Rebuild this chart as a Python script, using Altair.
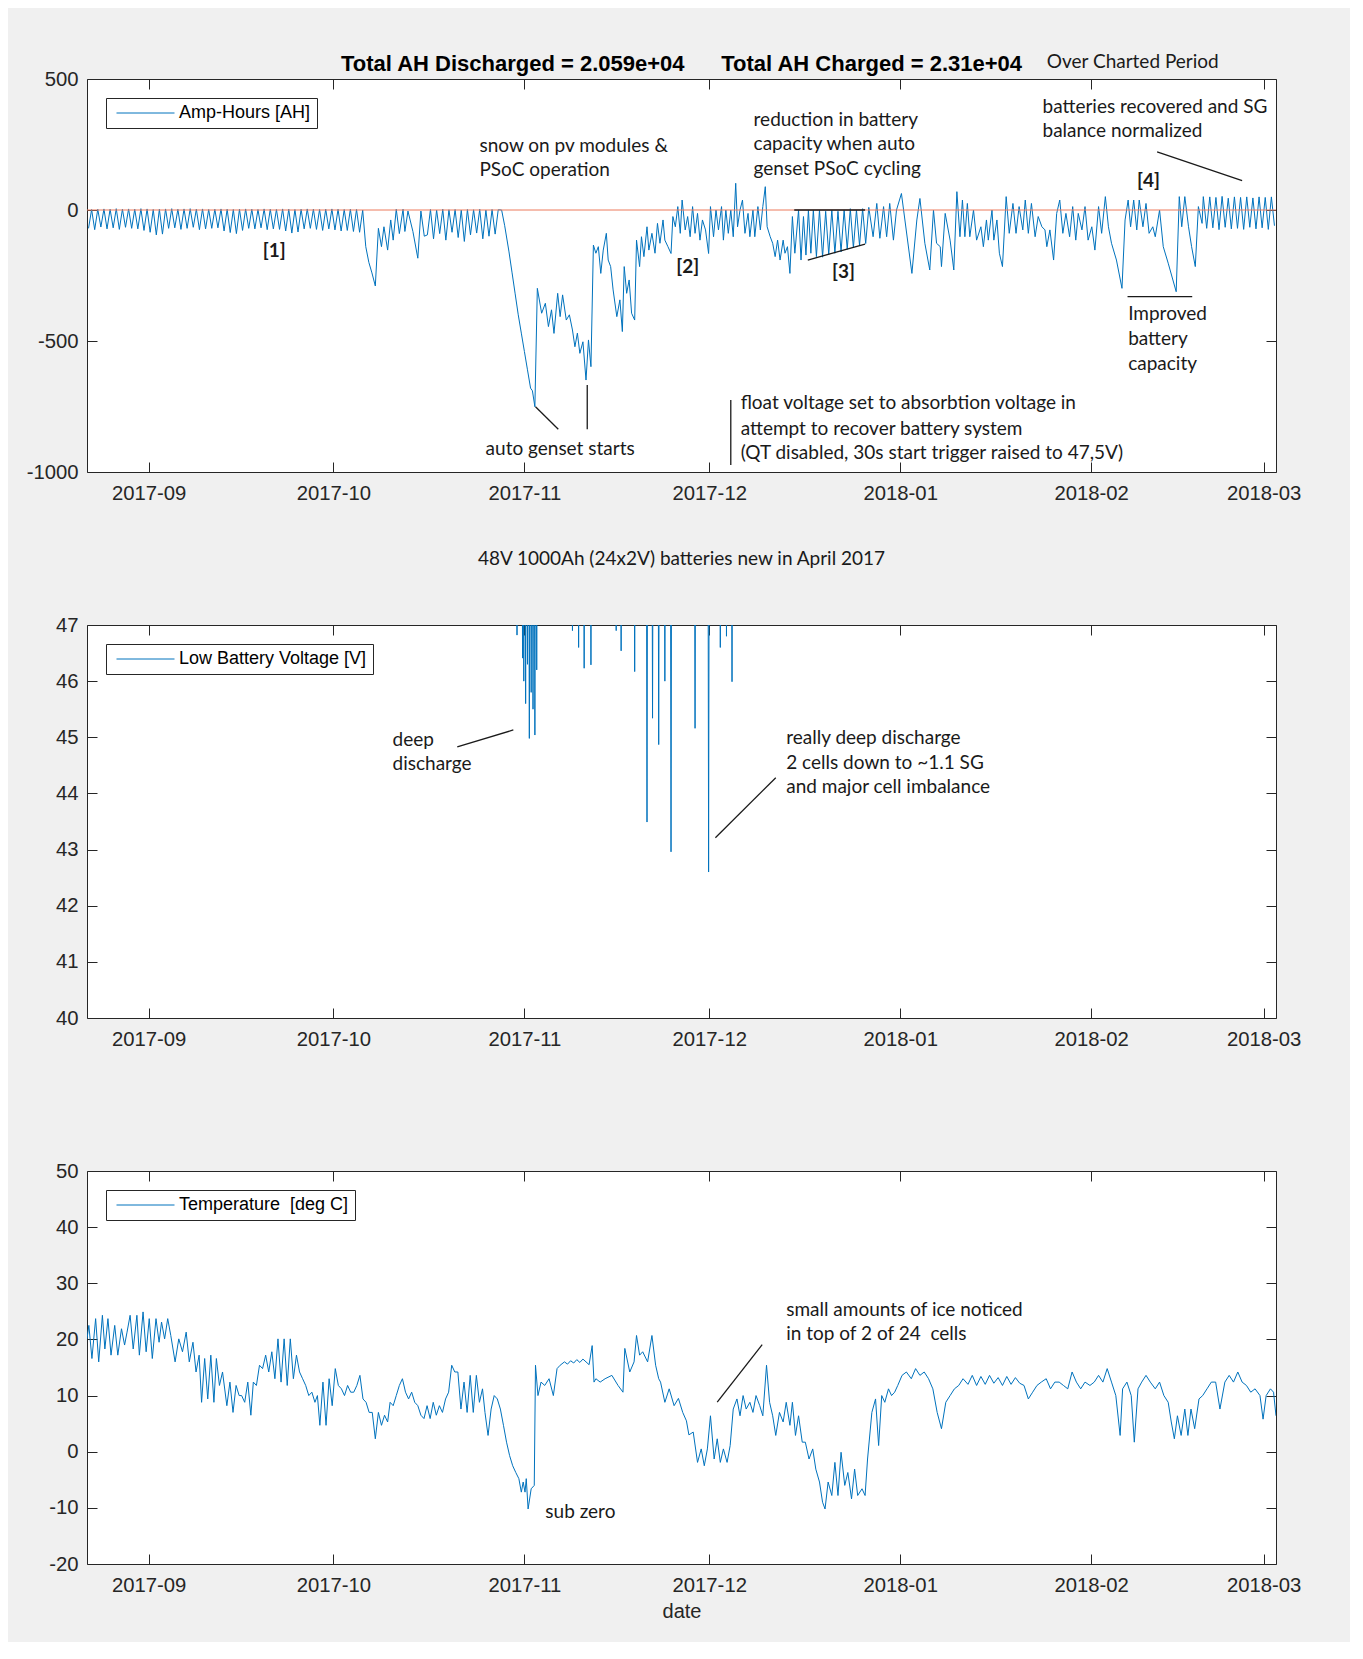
import altair as alt
import pandas as pd

# ---------------- data ----------------
START = "2017-08-22"          # day 0 of the x axis
MONTH_TICKS = [(2017, 9), (2017, 10), (2017, 11), (2017, 12), (2018, 1), (2018, 2), (2018, 3)]
AH_TICKS = [-1000, -500, 0, 500]
V_TICKS = [40, 41, 42, 43, 44, 45, 46, 47]
T_TICKS = [-20, -10, 0, 10, 20, 30, 40, 50]

# Amp-hours, regular daily cycling (half-day samples from day 0.25)
AH_A_START = 0.25
AH_A = [-70, 2, -75, 3, -65, 4, -72, 3, -68, 5, -74, 3, -66, 4, -70, 3, -72, 5, -78, 4,
        -85, 2, -95, 3, -92, 4, -70, 5, -68, 3, -74, 4, -70, 5, -66, 3, -75, 4, -72, 2,
        -70, 3, -68, 4, -80, 3, -86, 2, -90, 3, -78, 4, -70, 3, -72, 2, -68, 4, -75, 3,
        -72, 2, -74, 4, -80, 3, -88, 2, -84, 3, -72, 4, -70, 3, -74, 2, -78, 3, -72, 4,
        -76, 3, -80, 2, -78, 3, -82, 2, -85, 0]
AH_B_DAYS = [45.25, 45.75, 46.25, 46.8, 47.3, 47.8, 48.2, 48.8, 49.3, 49.7, 50.2, 50.7,
             51.3, 51.6, 52.1, 52.9, 53.7, 54.2, 54.75]
AH_B_VALS = [-140, -200, -240, -290, -70, -140, -64, -153, -38, -115, 3, -90,
             3, -82, -4, -82, -184, -4, -100]
AH_C_START = 55.25
AH_C = [-95, 2, -110, 0, -90, 3, -115, 1, -85, 2, -105, 0, -120, 2, -95, 1, -88, 3,
        -110, 0, -100, 2, -92, 1]
AH_D_DAYS = [67.3, 67.8, 68.5, 69.0, 69.5, 70.0, 70.5, 71.0, 71.5, 72.0, 72.3, 72.7, 73.1,
             73.8, 74.4, 74.9, 75.4, 75.8, 76.4, 76.8, 77.2, 77.8, 78.3, 78.8, 79.2, 79.6, 80.0, 80.5, 81.0, 81.4, 81.8,
             82.2, 82.6, 83.0, 83.4, 83.8, 84.3, 84.6, 85.0, 85.4, 86.0, 86.5, 86.9, 87.2, 87.6, 88.0, 88.4, 88.9,
             89.2, 89.7, 90.0, 90.4, 90.9, 91.2, 91.7, 92.2, 92.6, 93.0, 93.5, 93.8, 94.3, 94.8,
             95.1, 95.5, 95.9, 96.3, 96.6, 97.1, 97.5, 97.9, 98.3, 98.7, 99.1, 99.5, 99.9, 100.4, 100.9,
             101.2, 101.7, 102.1, 102.5, 103.0, 103.3, 103.7, 104.1, 104.5, 104.9, 105.3, 105.6, 106.0, 106.4, 106.8,
             107.3, 107.6, 108.1, 108.4, 108.9, 109.3, 109.7, 110.1, 110.4, 110.9, 111.3, 111.7, 112.1, 112.5, 113.0,
             113.3, 113.7, 114.1, 114.5, 114.9, 115.5, 115.9, 116.3, 116.7, 117.1, 117.5, 117.9, 118.4, 118.9, 119.4,
             119.9, 120.4, 120.9, 121.4, 121.9, 122.4, 122.9, 123.4, 123.9, 124.4, 124.9, 125.4, 125.9, 126.4, 126.9,
             127.6, 128.2, 128.7, 129.3, 129.8, 130.3, 130.9, 131.4, 132.2, 133.9, 134.7, 135.2, 136.0, 136.8, 137.4,
             137.9, 138.5, 138.7, 139.3, 140.1, 140.7, 141.2, 141.7, 142.1, 142.5, 142.9, 143.3, 143.9, 144.4, 145.1,
             145.5, 146.0, 146.3, 146.9, 147.2, 147.7, 148.1, 148.6, 149.2, 149.7, 150.3, 150.8, 151.3, 151.9, 152.3,
             152.8, 153.3, 153.9, 154.4, 155.0, 155.5, 155.8, 156.3, 156.9, 157.4, 157.9, 158.4, 158.9, 159.5, 160.0,
             160.5, 160.9, 161.5, 162.0, 162.5, 163.1, 163.6, 164.2, 164.7, 165.3, 165.8, 166.3, 167.1, 168.0, 168.5,
             169.0, 169.4, 169.9, 170.4, 170.8, 171.4, 171.9, 172.4, 173.0, 173.4, 174.1, 174.7, 175.5, 176.8, 177.3,
             177.7, 178.2, 178.8, 179.3, 179.9, 180.4, 181.0, 181.2]
AH_D_VALS = [0, -60, -160, -240, -320, -400, -470, -540, -610, -680, -690, -751, -299,
             -394, -356, -445, -381, -471, -318, -407, -324, -420, -400, -458, -522, -470, -547, -503, -649, -496, -598,
             -134, -165, -140, -242, -153, -89, -191, -216, -305, -407, -343, -464, -216, -318, -267, -394, -420,
             -115, -216, -102, -178, -64, -153, -89, -165, -51, -127, -38, -115, -140, -166,
             -25, -64, 13, -89, 38, -76, -25, -102, 13, -89, -13, -115, -38, -76, -166,
             13, -102, 0, -76, 13, -115, 0, -89, 0, -102, 102, -64, 0, 38, -89,
             -13, -102, 0, -102, 13, -76, 13, 89, -64, -102, -127, -178, -115, -191, -115,
             -165, -140, -242, -25, -165, 0, -191, -25, -172, 0, -165, 0, -178, 0, -180,
             -5, -170, 0, -165, -5, -160, 0, -150, 5, -145, 0, -135, 5, -128, 10,
             -102, 25, -108, 13, -102, 25, -115, 0, 63, -242, -38, 44, -127, -229, 0,
             -127, -140, -216, -13, -115, -229, 70, -102, 38, -102, 25, -102, 0, -115, -64,
             -140, -38, -115, 0, -115, -38, -165, -216, 51, -89, 25, -89, 13, -76, 38,
             -89, 25, -102, -25, -64, -76, -140, -76, -191, -13, 38, -89, -13, -102, 13,
             -115, -13, -76, 13, -115, -64, -153, 13, -89, 51, -64, -127, -191, -299, -38,
             38, -64, 38, -76, 38, -64, 25, -89, -64, -102, 0, -140, -203, -312, 51,
             -64, 51, -64, -140, -216, 13, -51, 51]
AH_E_START = 181.75
AH_E = [-70, 50, -68, 48, -75, 52, -66, 45, -72, 50, -70, 48, -74, 50, -66, 46, -72, 50,
        -68, 48, -74, 50, -60]

# Low battery voltage: dips below 47 V (between them the voltage is above the axis)
V_ABOVE = 49.5
V_SPIKE_DAYS = [69.8, 70.7, 70.9, 71.2, 71.5, 71.8, 72.1, 72.4, 72.7, 73.0, 78.8, 79.8, 80.7,
                81.8, 85.9, 86.7, 88.9, 90.9, 91.8, 92.8, 93.8, 94.8, 98.7, 100.9, 102.8, 103.8, 104.7]
V_SPIKE_LOWS = [46.82, 46.41, 46.0, 45.6, 46.3, 44.98, 45.8, 45.5, 45.04, 46.2, 46.9, 46.6, 46.23,
                46.29, 46.9, 46.54, 46.17, 43.49, 45.34, 44.87, 46.0, 42.96, 45.16, 42.60, 46.6, 46.8, 45.99]

# Temperature
TEMP_DAYS = [0.0, 0.3, 0.8, 1.4, 1.9, 2.5, 2.9, 3.4, 3.9, 4.5, 5.0, 5.6, 6.1, 6.5, 7.0,
             7.5, 8.1, 8.5, 9.1, 9.6, 10.1, 10.6, 11.2, 11.7, 12.1, 12.6, 13.1, 13.6, 14.3, 14.9,
             15.5, 16.1, 16.6, 17.2, 17.7, 18.2, 18.6, 19.1, 19.6, 20.1, 20.6, 21.0, 21.5, 22.0, 22.7,
             23.2, 23.7, 24.2, 24.7, 25.1, 25.6, 26.1, 26.6, 27.0, 27.5, 28.0, 28.5, 29.0, 29.5, 30.0,
             30.5, 31.0, 31.5, 32.0, 32.5, 33.0, 33.5, 34.0, 34.5, 35.0, 35.5, 36.0, 36.5, 37.0, 37.4,
             37.8, 38.3, 38.8, 39.3, 39.8, 40.3, 40.8, 41.3, 41.8, 42.3, 42.8, 43.3, 43.8, 44.3, 44.8,
             45.3, 45.8, 46.3, 46.8, 47.3, 47.8, 48.3, 48.8, 49.2, 49.7, 50.2, 50.7, 51.2, 51.7, 52.2,
             52.7, 53.2, 53.7, 54.2, 54.7, 55.2, 55.7, 56.2, 56.7, 57.2, 57.7, 58.2, 58.7, 59.2, 59.7,
             60.2, 60.7, 61.2, 61.7, 62.2, 62.7, 63.2, 63.7, 64.2, 64.6, 65.1, 65.6, 66.1, 66.6, 67.1,
             67.6, 68.1, 68.6, 69.1, 69.6, 70.1, 70.5, 70.8, 71.1, 71.3, 71.6, 72.1, 72.6, 72.8, 73.2,
             73.7, 74.3, 75.0, 75.7, 76.3, 76.8, 77.5, 78.0, 78.5, 79.0, 79.5, 80.0, 80.5, 81.0, 81.5,
             82.0, 82.3, 82.6, 83.3, 84.1, 85.2, 86.2, 87.0, 87.3, 88.1, 88.8, 89.2, 89.7, 90.2, 91.0,
             91.7, 92.3, 92.8, 93.1, 93.8, 94.5, 95.3, 96.0, 96.7, 97.3, 97.7, 98.4, 99.1, 99.7, 100.2,
             100.7, 101.2, 101.8, 102.3, 102.8, 103.3, 103.9, 104.4, 104.9, 105.5, 106.0, 106.5, 107.0, 107.6, 108.1,
             108.6, 109.2, 109.7, 110.3, 110.8, 111.3, 111.8, 112.4, 113.0, 113.5, 114.1, 114.5, 115.0, 115.5, 116.1,
             116.6, 117.2, 117.8, 118.3, 118.9, 119.4, 119.8, 120.3, 120.9, 121.4, 121.9, 122.4, 123.0, 123.5, 124.1,
             124.6, 125.1, 125.8, 126.3, 126.7, 127.4, 128.0, 128.5, 129.0, 129.5, 130.1, 130.6, 131.1, 131.6, 132.3,
             133.0, 133.8, 134.5, 135.2, 135.9, 136.6, 137.3, 138.0, 138.7, 139.4, 140.1, 140.8, 141.5, 142.2, 143.0,
             143.7, 144.4, 145.1, 145.8, 146.5, 147.2, 147.9, 148.6, 149.3, 150.0, 150.7, 151.4, 152.1, 152.8, 153.5,
             154.2, 154.9, 155.7, 156.4, 157.1, 157.8, 158.5, 159.2, 159.9, 160.6, 161.3, 162.0, 162.8, 163.5, 164.2,
             164.9, 165.6, 166.3, 167.0, 167.7, 168.1, 168.8, 169.5, 170.0, 170.6, 171.2, 171.9, 172.6, 173.4, 174.1,
             174.8, 175.5, 176.0, 176.5, 177.0, 177.6, 178.2, 178.7, 179.2, 179.8, 180.5, 181.1, 181.8, 182.5, 183.2,
             183.9, 184.7, 185.4, 186.1, 186.8, 187.5, 188.2, 188.9, 189.6, 190.4, 190.9, 191.4, 192.1, 192.6, 193.0]
TEMP_VALS = [20.1, 22.5, 16.6, 23.7, 16.0, 24.3, 18.3, 23.7, 17.2, 22.5, 17.2, 21.9, 19.0, 21.3, 24.3,
             18.3, 24.3, 17.2, 24.9, 17.8, 23.7, 16.6, 23.7, 19.5, 23.1, 20.1, 23.7, 20.7, 16.0, 20.1,
             17.8, 21.3, 16.0, 19.5, 14.2, 17.2, 8.8, 16.6, 9.4, 17.2, 8.8, 16.6, 11.8, 14.2, 8.2,
             12.4, 7.0, 11.8, 10.0, 10.0, 8.8, 12.4, 6.5, 12.4, 11.8, 15.4, 14.8, 17.2, 14.2, 17.8,
             13.0, 20.1, 12.4, 20.1, 11.8, 20.1, 13.0, 17.2, 14.2, 13.0, 11.8, 10.0, 10.6, 8.8, 10.0,
             4.7, 12.4, 4.7, 13.0, 8.2, 14.8, 11.8, 11.2, 10.0, 11.8, 10.6, 10.6, 11.8, 13.6, 9.4,
             8.8, 7.0, 7.0, 2.3, 7.0, 4.7, 6.5, 5.3, 8.8, 8.2, 10.0, 11.8, 13.0, 10.6, 9.4,
             10.6, 8.8, 8.2, 6.5, 5.9, 8.2, 5.9, 8.8, 6.5, 8.2, 7.0, 9.4, 10.6, 15.4, 14.2,
             14.2, 7.6, 12.4, 7.0, 13.6, 7.0, 13.6, 8.8, 11.2, 7.0, 2.9, 7.6, 10.0, 9.4, 7.6,
             4.7, 1.7, -0.7, -2.5, -3.7, -4.8, -7.2, -5.4, -7.2, -4.8, -10.2, -6.6, -6.0, 15.4, 10.0,
             12.4, 11.8, 13.0, 10.0, 14.8, 15.4, 16.0, 15.6, 16.2, 15.8, 16.4, 15.9, 16.5, 16.0, 15.5,
             18.9, 12.4, 13.0, 12.4, 13.0, 13.6, 11.8, 10.6, 18.4, 14.2, 16.0, 20.7, 17.2, 17.8, 16.0,
             20.7, 15.4, 13.0, 12.4, 8.8, 11.2, 8.2, 9.5, 7.0, 5.5, 3.0, 3.5, -1.9, 0.5, -2.5,
             0.5, 6.4, -1.3, 2.3, -1.9, 0.5, -1.9, 1.1, 7.6, 9.4, 6.4, 10.0, 7.6, 8.8, 7.0,
             10.0, 8.2, 6.4, 15.4, 8.8, 6.4, 2.9, 7.0, 5.3, 8.8, 4.7, 8.8, 2.9, 6.4, 1.7,
             1.7, -1.3, 0.5, -3.1, -5.4, -9.0, -10.2, -5.4, -7.8, -1.9, -7.8, -0.1, -6.0, -3.7, -8.4,
             -3.1, -7.8, -6.6, -7.8, -1.3, 7.0, 9.4, 1.1, 10.0, 8.8, 11.2, 10.0, 10.6, 11.8, 13.6,
             14.2, 13.0, 14.8, 13.6, 14.2, 13.0, 11.2, 7.0, 4.1, 8.8, 10.0, 11.2, 11.8, 13.0, 12.0,
             13.6, 11.8, 13.4, 12.0, 13.6, 12.2, 13.2, 11.8, 13.4, 12.0, 13.2, 12.2, 11.8, 9.4, 10.6,
             11.8, 12.4, 13.0, 11.2, 12.4, 12.4, 11.8, 11.2, 14.2, 12.4, 11.2, 12.4, 11.8, 12.4, 13.6,
             12.4, 14.8, 12.4, 10.0, 2.9, 11.2, 12.4, 10.0, 1.7, 11.2, 12.4, 13.6, 12.4, 11.2, 12.4,
             10.0, 8.8, 5.3, 2.3, 6.4, 2.9, 7.6, 2.9, 7.6, 4.1, 9.4, 10.0, 11.2, 12.4, 12.4,
             7.6, 12.4, 13.6, 12.4, 14.2, 12.4, 11.8, 10.6, 11.2, 10.0, 5.8, 10.0, 11.2, 10.6, 6.4]

# annotations (day, value, text)
P1_NOTE_DAY = [63.7, 63.7, 64.7, 108.2, 108.2, 108.2, 155.1, 155.1, 169.0, 169.0, 169.0,
               106.1, 106.1, 106.1, 155.8]
P1_NOTE_VAL = [244, 151, -911, 345, 252, 155, 393, 301, -398, -491, -588, -737, -834, -927, 563]
P1_NOTE_TXT = ["snow on pv modules &", "PSoC operation", "auto genset starts",
               "reduction in battery", "capacity when auto", "genset PSoC cycling",
               "batteries recovered and SG", "balance normalized",
               "Improved", "battery", "capacity",
               "float voltage set to absorbtion voltage in", "attempt to recover battery system",
               "(QT disabled, 30s start trigger raised to 47,5V)", "Over Charted Period"]
P1_TAG_DAY = [30.4, 97.5, 122.8, 172.3]
P1_TAG_VAL = [-156, -216, -237, 111]
P1_TAG_TXT = ["[1]", "[2]", "[3]", "[4]"]
P1_LINE_D1 = [72.8, 81.2, 104.5, 114.8, 117.0, 173.7, 168.9]
P1_LINE_V1 = [-751, -668, -725, 0, -191, 222, -331]
P1_LINE_D2 = [76.5, 81.2, 104.5, 126.3, 126.3, 187.5, 179.4]
P1_LINE_V2 = [-837, -837, -973, 0, -130, 112, -331]

P2_NOTE_DAY = [49.6, 49.6, 113.5, 113.5, 113.5]
P2_NOTE_VAL = [44.96, 44.53, 44.98, 44.55, 44.11]
P2_NOTE_TXT = ["deep", "discharge", "really deep discharge", "2 cells down to ~1.1 SG",
               "and major cell imbalance"]
P2_LINE_D1 = [60.1, 102.0]
P2_LINE_V1 = [44.83, 43.21]
P2_LINE_D2 = [69.2, 111.8]
P2_LINE_V2 = [45.13, 44.28]

P3_NOTE_DAY = [74.4, 113.5, 113.5]
P3_NOTE_VAL = [-10.8, 25.3, 21.0]
P3_NOTE_TXT = ["sub zero", "small amounts of ice noticed", "in top of 2 of 24\u00a0 cells"]
P3_LINE_D1 = [102.3]
P3_LINE_V1 = [8.85]
P3_LINE_D2 = [109.6]
P3_LINE_V2 = [19.06]

TITLE1 = "Total AH Discharged = 2.059e+04" + "\u00a0" * 6 + "Total AH Charged = 2.31e+04"
TITLE2 = "48V 1000Ah (24x2V) batteries new in April 2017"
NAME1 = "Amp-Hours [AH]"
NAME2 = "Low Battery Voltage [V]"
NAME3 = "Temperature\u00a0 [deg C]"

# ---------------- styling ----------------
BLUE = "#0072BD"
ZERO_RED = "#ec7a5c"
INK = "#1a1a1a"
AXIS_INK = "#262626"
NOTE_FONT = "Lato"
NOTE_SIZE = 19
TICK_FONT_SIZE = 20.3
W, H = 1189, 393

t0 = pd.Timestamp(START, tz="UTC")


def iso(d):
    return (t0 + pd.Timedelta(days=float(d))).strftime("%Y-%m-%dT%H:%M:%SZ")


def dt(y, m, d=1):
    return alt.DateTime(year=y, month=m, date=d, utc=True)


X_DOMAIN = [dt(2017, 8, 22), dt(2018, 3, 3)]
X_VALUES = [dt(y, m) for y, m in MONTH_TICKS]


def xenc(axis, field="t"):
    return alt.X(f"{field}:T", scale=alt.Scale(type="utc", domain=X_DOMAIN), axis=axis)


def yenc(domain, axis, field="v"):
    return alt.Y(f"{field}:Q", scale=alt.Scale(domain=domain), axis=axis)


def bottom_axis(title=None):
    return alt.Axis(orient="bottom", values=X_VALUES, format="%Y-%m", title=title)


def left_axis(ticks):
    return alt.Axis(orient="left", values=ticks, labelExpr="toString(datum.value)", title=None)


def top_axis():
    return alt.Axis(orient="top", values=X_VALUES, labels=False, title=None,
                    minExtent=0, maxExtent=10)


def right_axis(ticks):
    return alt.Axis(orient="right", values=ticks, labels=False, title=None,
                    minExtent=0, maxExtent=10)


def series_df(days, vals, name):
    return pd.DataFrame({"t": [iso(d) for d in days], "v": vals, "series": name})


def notes_df(days, vals, texts):
    return pd.DataFrame({"t": [iso(d) for d in days], "v": vals, "txt": texts})


def lines_df(d1, v1, d2, v2):
    return pd.DataFrame({"t": [iso(d) for d in d1], "v": v1,
                         "t2": [iso(d) for d in d2], "v2": v2})


def panel(line_df, name, domain, ticks, notes, segs, x_title=None, extra=None, title=None):
    legend = alt.Legend(title=None)
    line = alt.Chart(line_df).mark_line(strokeWidth=1, clip=True).encode(
        x=xenc(bottom_axis(x_title)),
        y=yenc(domain, left_axis(ticks)),
        color=alt.Color("series:N", scale=alt.Scale(range=[BLUE]), legend=legend),
    )
    layers = [line]
    if extra is not None:
        layers += extra(domain)
    layers.append(
        alt.Chart(segs).mark_rule(color=INK, strokeWidth=1.3).encode(
            x=xenc(None), x2="t2:T", y=yenc(domain, None), y2="v2:Q")
    )
    layers.append(
        alt.Chart(notes).mark_text(align="left", baseline="middle", font=NOTE_FONT,
                                   fontSize=NOTE_SIZE, color=INK).encode(
            x=xenc(top_axis()), y=yenc(domain, right_axis(ticks)), text="txt:N")
    )
    ch = alt.layer(*layers).resolve_axis(x="independent", y="independent")
    props = dict(width=W, height=H)
    if title is not None:
        props["title"] = title
    return ch.properties(**props)


# ---------- panel 1 ----------
ah_days = ([AH_A_START + 0.5 * i for i in range(len(AH_A))] + AH_B_DAYS +
           [AH_C_START + 0.5 * i for i in range(len(AH_C))] + AH_D_DAYS +
           [AH_E_START + 0.5 * i for i in range(len(AH_E))])
ah_vals = AH_A + AH_B_VALS + AH_C + AH_D_VALS + AH_E
ah_df = series_df(ah_days, ah_vals, NAME1)


def p1_extra(domain):
    zero = alt.Chart(pd.DataFrame({"v": [0]})).mark_rule(color=ZERO_RED, strokeWidth=1).encode(
        y=yenc(domain, None))
    tags = alt.Chart(notes_df(P1_TAG_DAY, P1_TAG_VAL, P1_TAG_TXT)).mark_text(
        align="center", baseline="middle", font=NOTE_FONT, fontSize=NOTE_SIZE,
        fontWeight="bold", color=INK).encode(
        x=xenc(None), y=yenc(domain, None), text="txt:N")
    return [zero, tags]


p1 = panel(ah_df, NAME1, [-1000, 500], AH_TICKS,
           notes_df(P1_NOTE_DAY, P1_NOTE_VAL, P1_NOTE_TXT),
           lines_df(P1_LINE_D1, P1_LINE_V1, P1_LINE_D2, P1_LINE_V2),
           extra=p1_extra,
           title=alt.TitleParams(text=TITLE1, font="Liberation Sans", fontSize=22,
                                 fontWeight="bold", color="black", offset=-40, frame="group",
                                 baseline="alphabetic", anchor="middle"))

# ---------- panel 2 ----------
v_days, v_vals = [0.0], [V_ABOVE]
for d, low in zip(V_SPIKE_DAYS, V_SPIKE_LOWS):
    v_days += [d - 0.1, d, d + 0.1]
    v_vals += [V_ABOVE, low, V_ABOVE]
v_days.append(193.0)
v_vals.append(V_ABOVE)
v_df = series_df(v_days, v_vals, NAME2)

p2 = panel(v_df, NAME2, [40, 47], V_TICKS,
           notes_df(P2_NOTE_DAY, P2_NOTE_VAL, P2_NOTE_TXT),
           lines_df(P2_LINE_D1, P2_LINE_V1, P2_LINE_D2, P2_LINE_V2),
           title=alt.TitleParams(text=TITLE2, font=NOTE_FONT, fontSize=NOTE_SIZE,
                                 fontWeight="normal", color=INK, offset=31, frame="group",
                                 baseline="alphabetic", anchor="middle"))

# ---------- panel 3 ----------
t_df = series_df(TEMP_DAYS, TEMP_VALS, NAME3)
p3 = panel(t_df, NAME3, [-20, 50], T_TICKS,
           notes_df(P3_NOTE_DAY, P3_NOTE_VAL, P3_NOTE_TXT),
           lines_df(P3_LINE_D1, P3_LINE_V1, P3_LINE_D2, P3_LINE_V2),
           x_title="date")

chart = alt.vconcat(
    p1, p2, p3, spacing=153, bounds="flush",
    padding={"left": 17, "top": 44, "right": 48, "bottom": 20},
    background="#f0f0f0",
).resolve_scale(color="independent").configure_view(
    fill="white", stroke=AXIS_INK, strokeWidth=1
).configure_axis(
    labelFont="Liberation Sans", labelFontSize=TICK_FONT_SIZE, labelColor=AXIS_INK,
    tickColor=AXIS_INK, tickSize=10, tickWidth=1, domain=False, grid=False,
    offset=-10, labelPadding=9, labelFlush=False, labelOverlap=False,
    titleFont="Liberation Sans", titleFontSize=20, titleFontWeight="normal",
    titleColor=AXIS_INK, titlePadding=6,
).configure_axisBottom(labelPadding=11).configure_legend(
    orient="top-left", offset=19, padding=6, strokeColor=AXIS_INK, fillColor="white",
    cornerRadius=0, symbolType="stroke", symbolSize=3364, symbolStrokeWidth=1,
    symbolOffset=4, labelOffset=4, labelFont="Liberation Sans", labelFontSize=18,
    labelColor="black", clipHeight=18, labelLimit=400,
)

chart.save("out.html", embed_options={"renderer": "svg", "actions": False})
